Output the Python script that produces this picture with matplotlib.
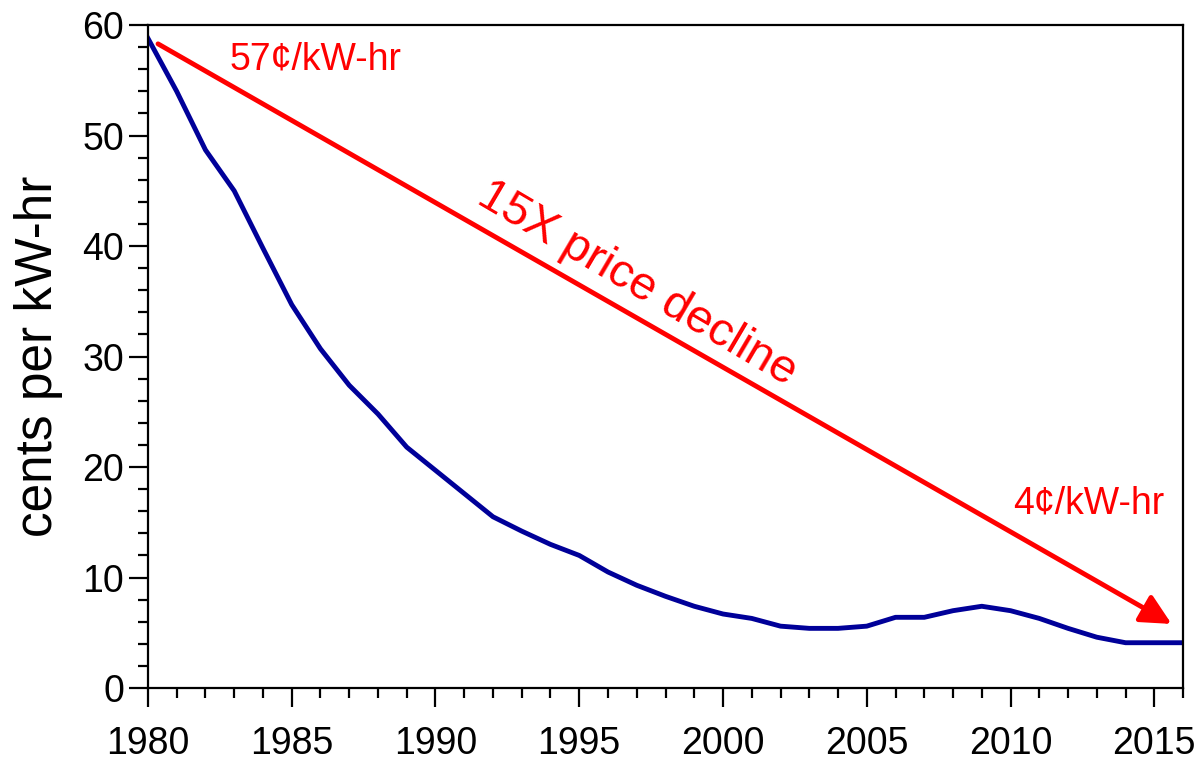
import matplotlib.pyplot as plt
from matplotlib.ticker import MultipleLocator

plt.rcParams['font.family'] = ['Liberation Sans', 'DejaVu Sans']

years = list(range(1980, 2017))
cents = [58.8, 54.0, 48.7, 45.0, 39.8, 34.7, 30.7, 27.4, 24.8, 21.8,
         19.7, 17.6, 15.5, 14.2, 13.0, 12.0, 10.5, 9.3, 8.3, 7.4,
         6.7, 6.3, 5.6, 5.4, 5.4, 5.6, 6.4, 6.4, 7.0, 7.4,
         7.0, 6.3, 5.4, 4.6, 4.1, 4.1, 4.1]

arrow_start = (1980.35, 58.3)
arrow_end = (2015.6, 5.8)

fig = plt.figure(figsize=(11.99, 7.6), dpi=100)
ax = fig.add_axes([0.1234, 0.0947, 0.8633, 0.8723])

ax.plot(years, cents, color='#000099', lw=3.5, solid_joinstyle='round')

# red arrow and labels
ax.annotate('', xy=arrow_end, xytext=arrow_start,
            arrowprops=dict(arrowstyle='-|>', lw=3.5, color='red',
                            mutation_scale=46, shrinkA=0, shrinkB=0))
ax.text(1982.85, 56.0, '57¢/kW-hr', color='red', fontsize=27, va='baseline')
ax.text(2010.1, 15.8, '4¢/kW-hr', color='red', fontsize=27, va='baseline')
ax.text(1997.0, 36.6, '15X price decline', color='red', fontsize=34,
        rotation=-30.5, rotation_mode='anchor', ha='center', va='center')

ax.set_xlim(1980, 2016)
ax.set_ylim(0, 60)
ax.xaxis.set_major_locator(MultipleLocator(5))
ax.xaxis.set_minor_locator(MultipleLocator(1))
ax.yaxis.set_major_locator(MultipleLocator(10))
ax.yaxis.set_minor_locator(MultipleLocator(2))
ax.tick_params(axis='x', which='major', length=14, width=1.6, labelsize=27, pad=13)
ax.tick_params(axis='x', which='minor', length=7, width=1.6)
ax.tick_params(axis='y', which='major', length=14, width=1.6, labelsize=27, pad=3)
ax.tick_params(axis='y', which='minor', length=7, width=1.6)
for s in ax.spines.values():
    s.set_linewidth(1.6)

ax.set_ylabel('cents per kW-hr', fontsize=37, labelpad=14)

fig.savefig('out.png', dpi=100)
